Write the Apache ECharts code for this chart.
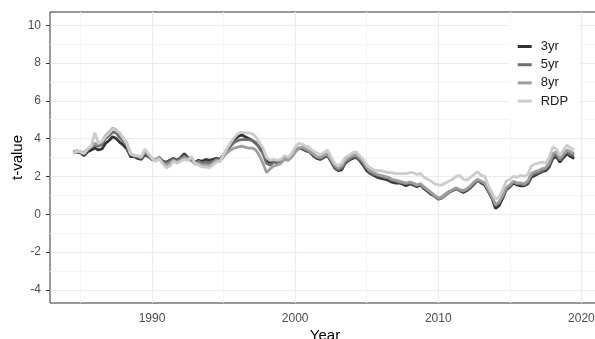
<!DOCTYPE html>
<html>
<head>
<meta charset="utf-8">
<script src="https://cdn.jsdelivr.net/npm/echarts@6/dist/echarts.min.js"></script>
<style>html,body{margin:0;padding:0;background:#fff}#c{width:595px;height:339px}</style>
</head>
<body>
<div id="c"></div>
<script>
// ---- data ----
const years = [
 1984.50,1984.75,1985.00,1985.25,1985.50,1985.75,1986.00,1986.25,1986.50,1986.75,
 1987.00,1987.25,1987.50,1987.75,1988.00,1988.25,1988.50,1988.75,1989.00,1989.25,
 1989.50,1989.75,1990.00,1990.25,1990.50,1990.75,1991.00,1991.25,1991.50,1991.75,
 1992.00,1992.25,1992.50,1992.75,1993.00,1993.25,1993.50,1993.75,1994.00,1994.25,
 1994.50,1994.75,1995.00,1995.25,1995.50,1995.75,1996.00,1996.25,1996.50,1996.75,
 1997.00,1997.25,1997.50,1997.75,1998.00,1998.25,1998.50,1998.75,1999.00,1999.25,
 1999.50,1999.75,2000.00,2000.25,2000.50,2000.75,2001.00,2001.25,2001.50,2001.75,
 2002.00,2002.25,2002.50,2002.75,2003.00,2003.25,2003.50,2003.75,2004.00,2004.25,
 2004.50,2004.75,2005.00,2005.25,2005.50,2005.75,2006.00,2006.25,2006.50,2006.75,
 2007.00,2007.25,2007.50,2007.75,2008.00,2008.25,2008.50,2008.75,2009.00,2009.25,
 2009.50,2009.75,2010.00,2010.25,2010.50,2010.75,2011.00,2011.25,2011.50,2011.75,
 2012.00,2012.25,2012.50,2012.75,2013.00,2013.25,2013.50,2013.75,2014.00,2014.25,
 2014.50,2014.75,2015.00,2015.25,2015.50,2015.75,2016.00,2016.25,2016.50,2016.75,
 2017.00,2017.25,2017.50,2017.75,2018.00,2018.25,2018.50,2018.75,2019.00,2019.25,
 2019.50
];
const t3yr = [
 3.25,3.3,3.25,3.1,3.3,3.4,3.5,3.4,3.45,3.75,
 3.9,4.1,4.0,3.8,3.65,3.45,3.05,3.05,2.95,2.9,
 3.15,3.05,2.9,2.85,3.0,2.8,2.75,2.85,2.95,2.85,
 3.0,3.2,3.0,2.85,2.75,2.85,2.8,2.9,2.85,2.9,
 2.95,2.9,3.15,3.45,3.75,3.95,4.1,4.2,4.1,4.0,
 3.9,3.75,3.55,3.3,2.85,2.7,2.85,2.8,2.8,3.05,
 2.9,3.1,3.35,3.5,3.45,3.35,3.3,3.1,2.95,2.9,
 3.0,3.1,2.8,2.45,2.3,2.35,2.7,2.85,2.95,3.0,
 2.85,2.6,2.3,2.15,2.05,1.95,1.9,1.85,1.8,1.7,
 1.65,1.65,1.6,1.5,1.6,1.55,1.45,1.55,1.35,1.2,
 1.05,0.95,0.8,0.9,1.05,1.2,1.25,1.35,1.25,1.15,
 1.25,1.4,1.6,1.8,1.65,1.55,1.2,0.85,0.3,0.45,
 0.85,1.3,1.45,1.65,1.55,1.5,1.5,1.6,1.95,2.05,
 2.15,2.25,2.3,2.5,2.95,3.05,2.75,3.0,3.2,3.05,
 2.95
];
const t5yr = [
 3.3,3.35,3.3,3.2,3.4,3.55,3.65,3.6,3.7,4.0,
 4.15,4.35,4.3,4.05,3.85,3.6,3.15,3.1,3.05,2.95,
 3.25,3.1,2.9,2.85,3.0,2.75,2.7,2.8,2.9,2.8,
 2.95,3.1,2.95,2.85,2.7,2.8,2.7,2.75,2.7,2.8,
 2.9,2.85,3.1,3.35,3.6,3.8,3.9,3.95,3.95,3.95,
 3.9,3.8,3.5,3.2,2.7,2.6,2.75,2.7,2.75,2.95,
 2.9,3.05,3.3,3.5,3.5,3.4,3.3,3.15,3.0,2.95,
 3.05,3.15,2.85,2.5,2.35,2.45,2.75,2.9,3.0,3.05,
 2.9,2.7,2.4,2.2,2.1,2.05,2.0,1.95,1.9,1.8,
 1.75,1.7,1.65,1.6,1.65,1.6,1.5,1.6,1.4,1.25,
 1.1,0.95,0.8,0.85,1.0,1.15,1.25,1.35,1.25,1.2,
 1.3,1.45,1.65,1.8,1.7,1.6,1.25,0.9,0.45,0.6,
 0.95,1.35,1.5,1.7,1.6,1.6,1.55,1.7,2.05,2.15,
 2.2,2.3,2.4,2.6,3.05,3.15,2.85,3.1,3.3,3.15,
 3.1
];
const t8yr = [
 3.3,3.35,3.3,3.25,3.45,3.6,3.75,3.7,3.85,4.15,
 4.35,4.55,4.45,4.25,4.0,3.75,3.2,3.1,3.05,3.0,
 3.35,3.15,2.95,2.85,2.95,2.7,2.6,2.7,2.85,2.75,
 2.85,3.0,2.9,2.9,2.65,2.7,2.6,2.6,2.55,2.7,
 2.85,2.8,3.05,3.25,3.4,3.5,3.55,3.6,3.55,3.5,
 3.5,3.4,3.1,2.7,2.2,2.4,2.55,2.6,2.7,2.9,
 2.85,3.0,3.3,3.5,3.55,3.45,3.35,3.2,3.05,3.0,
 3.1,3.2,2.9,2.6,2.45,2.55,2.85,3.0,3.1,3.15,
 3.0,2.8,2.5,2.3,2.2,2.1,2.05,2.0,1.95,1.85,
 1.8,1.75,1.7,1.65,1.7,1.65,1.55,1.6,1.45,1.3,
 1.15,1.0,0.85,0.9,1.05,1.2,1.3,1.4,1.3,1.25,
 1.35,1.5,1.7,1.85,1.75,1.65,1.3,0.95,0.5,0.65,
 1.0,1.4,1.55,1.75,1.65,1.65,1.6,1.75,2.15,2.25,
 2.3,2.4,2.45,2.7,3.2,3.3,2.95,3.2,3.4,3.3,
 3.2
];
const tRDP = [
 3.2,3.35,3.3,3.2,3.45,3.6,4.3,3.75,3.85,4.1,
 4.3,4.5,4.45,4.3,4.0,3.7,3.2,3.1,3.1,3.05,
 3.45,3.2,2.95,2.8,2.95,2.65,2.45,2.55,2.8,2.7,
 2.8,2.9,2.85,3.05,2.7,2.6,2.5,2.5,2.45,2.6,
 2.75,2.8,3.15,3.5,3.8,4.05,4.25,4.35,4.3,4.3,
 4.25,4.1,3.8,3.5,3.0,2.85,2.9,2.85,2.9,3.1,
 3.0,3.2,3.55,3.75,3.7,3.6,3.55,3.35,3.25,3.15,
 3.25,3.4,3.05,2.7,2.55,2.7,3.0,3.1,3.25,3.3,
 3.1,2.9,2.6,2.45,2.35,2.3,2.3,2.25,2.2,2.2,
 2.15,2.15,2.15,2.15,2.2,2.2,2.1,2.15,1.95,1.85,
 1.75,1.6,1.55,1.55,1.65,1.75,1.85,2.0,2.05,1.85,
 1.8,1.95,2.1,2.25,2.05,2.0,1.5,1.15,0.8,0.9,
 1.3,1.75,1.85,2.0,1.95,2.05,2.0,2.1,2.55,2.65,
 2.7,2.75,2.7,3.0,3.55,3.45,3.1,3.4,3.65,3.5,
 3.4
];
const seriesNames = ['3yr', '5yr', '8yr', 'RDP'];
const seriesValues = [t3yr, t5yr, t8yr, tRDP];
const xTicks = [1990, 2000, 2010, 2020];
const xMinorGrid = [1985, 1995, 2005, 2015];
const yTicks = [-4, -2, 0, 2, 4, 6, 8, 10];
const yMinorGrid = [-3, -1, 1, 3, 5, 7, 9];
// ---- style ----
const colors = ['#333333', '#6e6e6e', '#9e9e9e', '#cccccc'];
const font = 'Liberation Sans, Arial, sans-serif';

const gridLines = [];
xMinorGrid.forEach(v => gridLines.push({xAxis: v, lineStyle: {color: '#f4f4f4', width: 1, type: 'solid'}}));
yMinorGrid.forEach(v => gridLines.push({yAxis: v, lineStyle: {color: '#f4f4f4', width: 1, type: 'solid'}}));
xTicks.forEach(v => gridLines.push({xAxis: v, lineStyle: {color: '#ebebeb', width: 1.2, type: 'solid'}}));
yTicks.forEach(v => gridLines.push({yAxis: v, lineStyle: {color: '#ebebeb', width: 1.2, type: 'solid'}}));

const series = [{
  type: 'line', name: '_grid', data: [], silent: true, z: 1,
  markLine: {silent: true, z: 1, symbol: ['none', 'none'], label: {show: false}, animation: false, data: gridLines}
}];
seriesNames.forEach((n, k) => {
  series.push({
    type: 'line', name: n, z: 2,
    data: years.map((y, i) => [y, seriesValues[k][i]]),
    showSymbol: false, symbol: 'none',
    lineStyle: {color: colors[k], width: 2.8},
    itemStyle: {color: colors[k]},
    animation: false
  });
});

const chart = echarts.init(document.getElementById('c'), null, {renderer: 'canvas'});
chart.setOption({
  animation: false,
  backgroundColor: '#ffffff',
  grid: {left: 50, top: 12, width: 550, height: 291, outerBoundsMode: 'none', containLabel: false,
         show: true, borderColor: '#333333', borderWidth: 1, backgroundColor: 'transparent', z: 0},
  legend: {
    data: seriesNames, orient: 'vertical', left: 509, top: 22, icon: 'rect', z: 10,
    backgroundColor: '#ffffff', padding: [17.5, 11, 13, 8.7],
    itemWidth: 14, itemHeight: 3, itemGap: 4.2,
    textStyle: {fontFamily: font, fontSize: 13, lineHeight: 14, color: '#1a1a1a', padding: [0, 0, 0, 4]}
  },
  xAxis: {
    type: 'value', min: 1982.87, max: 2021.3,
    name: 'Year', nameLocation: 'middle', nameGap: 25, nameMoveOverlap: false,
    nameTextStyle: {fontFamily: font, fontSize: 15, color: '#000'},
    axisLine: {show: false},
    axisTick: {show: true, length: 4, customValues: xTicks, lineStyle: {color: '#333333'}},
    axisLabel: {customValues: xTicks, formatter: v => String(v), fontFamily: font, fontSize: 12, color: '#4d4d4d', margin: 10},
    splitLine: {show: false}
  },
  yAxis: {
    type: 'value', min: -4.7, max: 10.7,
    name: 't-value', nameLocation: 'middle', nameGap: 25, nameRotate: 90, nameMoveOverlap: false,
    nameTextStyle: {fontFamily: font, fontSize: 15, color: '#000'},
    axisLine: {show: false},
    axisTick: {show: true, length: 4, customValues: yTicks, lineStyle: {color: '#333333'}},
    axisLabel: {customValues: yTicks, fontFamily: font, fontSize: 12, color: '#4d4d4d', margin: 9},
    splitLine: {show: false}
  },
  series: series
});
</script>
</body>
</html>
